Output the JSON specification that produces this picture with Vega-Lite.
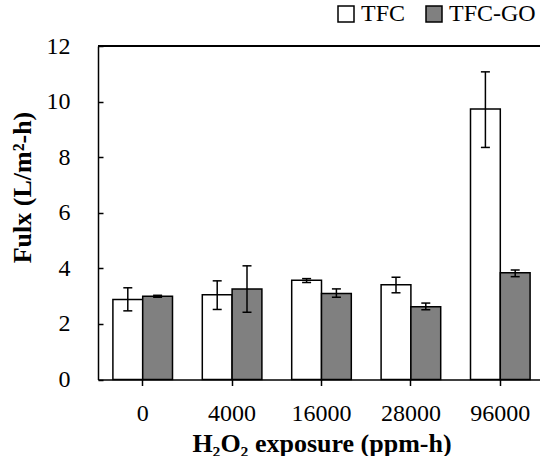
{
  "$schema": "https://vega.github.io/schema/vega-lite/v6.json",
  "width": 442,
  "height": 333.5,
  "autosize": {"type": "none"},
  "padding": {"left": 98, "top": 46, "right": 0, "bottom": 76.5},
  "background": "white",
  "config": {"font": "Liberation Serif", "view": {"stroke": null}},
  "data": {
    "values": [
      {"exposure": "0", "series": "TFC", "flux": 2.88, "low": 2.47, "high": 3.3},
      {"exposure": "0", "series": "TFC-GO", "flux": 3.0, "low": 2.96, "high": 3.03},
      {"exposure": "4000", "series": "TFC", "flux": 3.05, "low": 2.52, "high": 3.55},
      {"exposure": "4000", "series": "TFC-GO", "flux": 3.26, "low": 2.42, "high": 4.09},
      {"exposure": "16000", "series": "TFC", "flux": 3.57, "low": 3.49, "high": 3.63},
      {"exposure": "16000", "series": "TFC-GO", "flux": 3.09, "low": 2.96, "high": 3.26},
      {"exposure": "28000", "series": "TFC", "flux": 3.41, "low": 3.12, "high": 3.68},
      {"exposure": "28000", "series": "TFC-GO", "flux": 2.62, "low": 2.51, "high": 2.75},
      {"exposure": "96000", "series": "TFC", "flux": 9.73, "low": 8.35, "high": 11.07},
      {"exposure": "96000", "series": "TFC-GO", "flux": 3.84, "low": 3.7, "high": 3.94}
    ]
  },
  "layer": [
    {
      "mark": {"type": "rule", "strokeWidth": 1.5, "color": "black"},
      "encoding": {
        "y": {"datum": 12, "type": "quantitative", "title": "Fulx (L/m²-h)"}
      }
    },
    {
      "encoding": {
        "x": {
          "field": "exposure",
          "type": "nominal",
          "sort": ["0", "4000", "16000", "28000", "96000"],
          "scale": {"range": [0, 447], "paddingInner": 0, "paddingOuter": 0},
          "axis": {
            "title": "H₂O₂ exposure (ppm-h)",
            "labelAngle": 0,
            "ticks": true,
            "tickSize": 6,
            "tickColor": "black",
            "tickWidth": 1.5,
            "domainColor": "black",
            "domainWidth": 1.5,
            "labelFontSize": 24,
            "labelColor": "black",
            "labelBaseline": "alphabetic",
            "labelPadding": 34.5,
            "titleFontSize": 26,
            "titleFontWeight": "bold",
            "titleColor": "black",
            "titleBaseline": "alphabetic",
            "titleY": 71.5,
            "titleX": 223.5,
            "titleAlign": "center"
          }
        },
        "xOffset": {
          "field": "series",
          "type": "nominal",
          "sort": ["TFC", "TFC-GO"],
          "scale": {"paddingInner": 0, "paddingOuter": 0.5}
        }
      },
      "layer": [
        {
          "mark": {"type": "bar", "stroke": "black", "strokeWidth": 1.5},
          "encoding": {
            "y": {
              "field": "flux",
              "type": "quantitative",
              "title": "Fulx (L/m²-h)",
              "scale": {"domain": [0, 12], "nice": false},
              "axis": {
                "title": "Fulx (L/m²-h)",
                "values": [0, 1, 2, 3, 4, 5, 6, 7, 8, 9, 10, 11, 12],
                "labelExpr": "datum.value % 2 === 0 ? datum.label : ''",
                "labelFlush": false,
                "grid": false,
                "tickSize": -5,
                "tickColor": "black",
                "tickWidth": 1.5,
                "domainColor": "black",
                "domainWidth": 1.5,
                "labelFontSize": 24,
                "labelColor": "black",
                "labelPadding": 33,
                "titleFontSize": 26,
                "titleFontWeight": "bold",
                "titleColor": "black",
                "titleX": -76,
                "titleY": 141,
                "titleBaseline": "middle",
                "titleAngle": 270,
                "titleAlign": "center"
              }
            },
            "fill": {
              "field": "series",
              "type": "nominal",
              "scale": {"domain": ["TFC", "TFC-GO"], "range": ["#ffffff", "#808080"]},
              "legend": {
                "title": null,
                "orient": "none",
                "legendX": 236,
                "legendY": -44,
                "direction": "horizontal",
                "symbolType": "square",
                "symbolSize": 256,
                "symbolStrokeColor": "black",
                "symbolStrokeWidth": 1.5,
                "symbolOpacity": 1,
                "labelFontSize": 24,
                "labelColor": "black",
                "labelFont": "Liberation Serif",
                "labelOffset": 3,
                "columnPadding": 16,
                "padding": 0
              }
            }
          }
        },
        {
          "mark": {"type": "rule", "strokeWidth": 1.5, "color": "black"},
          "encoding": {
            "y": {"field": "low", "type": "quantitative", "title": "Fulx (L/m²-h)"},
            "y2": {"field": "high"}
          }
        },
        {
          "mark": {"type": "tick", "color": "black", "size": 9, "thickness": 1.5, "opacity": 1},
          "encoding": {"y": {"field": "low", "type": "quantitative", "title": "Fulx (L/m²-h)"}}
        },
        {
          "mark": {"type": "tick", "color": "black", "size": 9, "thickness": 1.5, "opacity": 1},
          "encoding": {"y": {"field": "high", "type": "quantitative", "title": "Fulx (L/m²-h)"}}
        }
      ]
    }
  ]
}
